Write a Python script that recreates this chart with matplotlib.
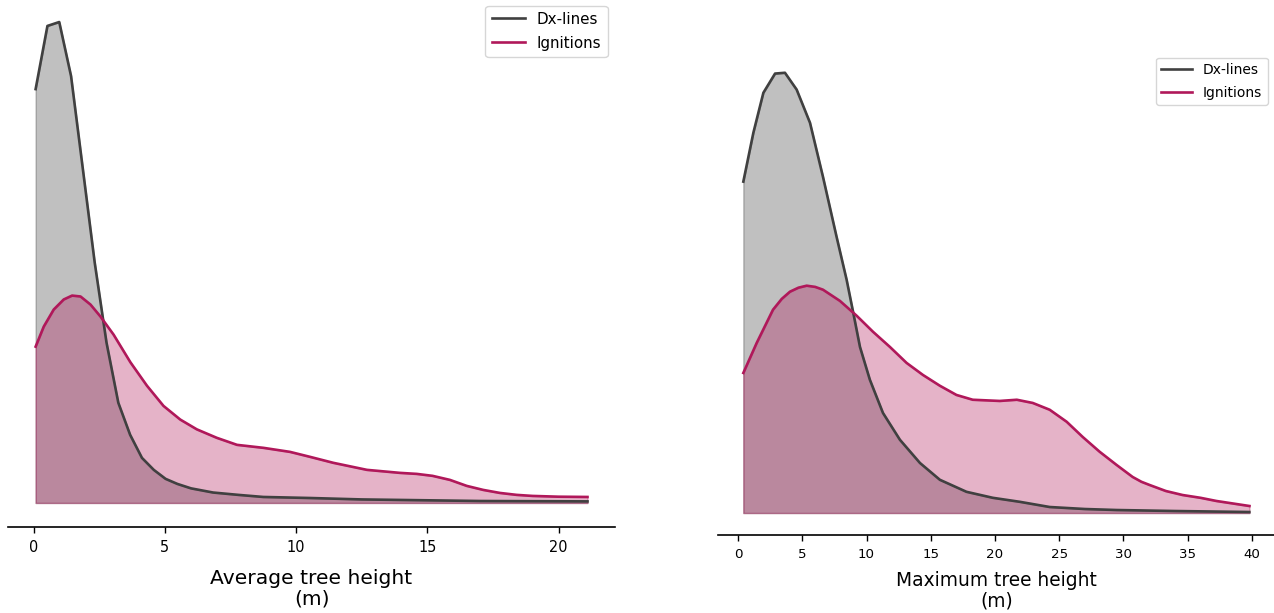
import matplotlib
matplotlib.use('Agg')
import matplotlib.pyplot as plt

# average tree height (m) -> density
avg_dx_x = [0.08, 0.53, 0.98, 1.43, 1.88, 2.33, 2.78, 3.23, 3.68, 4.13, 4.58, 5.03, 5.48, 6.0, 6.84, 7.8, 8.75, 10.53, 12.5, 14.0, 17.0, 21.1]
avg_dx_y = [0.3177, 0.3662, 0.3692, 0.3277, 0.2562, 0.1846, 0.1231, 0.0769, 0.0523, 0.0346, 0.0254, 0.0185, 0.0146, 0.0112, 0.0080, 0.0062, 0.0046, 0.0038, 0.0027, 0.0023, 0.0015, 0.0012]
avg_ig_x = [0.08, 0.39, 0.77, 1.15, 1.47, 1.79, 2.17, 2.55, 3.05, 3.69, 4.32, 4.95, 5.59, 6.22, 6.98, 7.75, 8.76, 9.77, 10.53, 11.42, 12.7, 13.95, 14.6, 15.2, 15.86, 16.5, 17.13, 17.76, 18.4, 19.0, 20.0, 21.1]
avg_ig_y = [0.120, 0.1354, 0.1485, 0.1562, 0.1592, 0.1585, 0.1523, 0.1431, 0.1292, 0.108, 0.0900, 0.0745, 0.0640, 0.0565, 0.050, 0.0446, 0.0423, 0.0392, 0.0354, 0.0308, 0.0254, 0.0231, 0.0223, 0.0208, 0.0177, 0.0131, 0.010, 0.0077, 0.0062, 0.0054, 0.0048, 0.0046]

# maximum tree height (m) -> density
max_dx_x = [0.41, 1.19, 1.97, 2.88, 3.65, 4.56, 5.60, 6.61, 7.67, 8.45, 8.97, 9.49, 10.26, 11.28, 12.60, 14.16, 15.71, 17.78, 19.83, 21.93, 24.26, 27.0, 29.47, 34.0, 39.8]
max_dx_y = [0.0828, 0.095, 0.105, 0.1098, 0.110, 0.1058, 0.0975, 0.084, 0.069, 0.0583, 0.050, 0.0415, 0.0333, 0.025, 0.0183, 0.0125, 0.0083, 0.0053, 0.0038, 0.0028, 0.0015, 0.001, 0.00075, 0.0005, 0.00025]
max_ig_x = [0.41, 1.45, 2.72, 3.4, 4.04, 4.7, 5.34, 6.0, 6.61, 7.93, 9.23, 10.5, 11.82, 13.12, 14.39, 15.71, 17.0, 18.27, 20.37, 21.7, 22.94, 24.26, 25.58, 26.83, 28.15, 29.47, 30.72, 31.4, 32.04, 33.3, 34.6, 36.0, 37.25, 39.81]
max_ig_y = [0.035, 0.0425, 0.0508, 0.0535, 0.0553, 0.0563, 0.0568, 0.0565, 0.0558, 0.053, 0.0493, 0.0453, 0.0415, 0.0375, 0.0345, 0.0318, 0.0295, 0.0283, 0.028, 0.0283, 0.0275, 0.0258, 0.0228, 0.019, 0.0153, 0.012, 0.009, 0.0078, 0.007, 0.0055, 0.0045, 0.0038, 0.003, 0.00175]

labels = ['Dx-lines', 'Ignitions']
colors = ['#404040', '#b0185a']


def draw(ax, series, xlabel, s, labelpad):
	for (x, y), lab, col in zip(series, labels, colors):
		ax.fill_between(x, y, 0, color=col, alpha=0.33, linewidth=1)
		ax.plot(x, y, color=col, linewidth=1.9, label=lab)
	for sp in ['left', 'right', 'top']:
		ax.spines[sp].set_visible(False)
	ax.spines['bottom'].set_linewidth(1.2)
	ax.set_yticks([])
	ax.tick_params(axis='x', labelsize=9.6 * s, length=4.5, width=1, pad=5)
	ax.set_xlabel(xlabel + '\n(m)', fontsize=13.4 * s, linespacing=1.1, labelpad=labelpad)
	ax.legend(loc='upper right', fontsize=10 * s, handlelength=2.2, labelspacing=0.6)


fig = plt.figure(figsize=(12.74, 6.13), dpi=100)
ax1 = fig.add_axes([0.0063, 0.1403, 0.4765, 0.863])
ax2 = fig.add_axes([0.5636, 0.1272, 0.437, 0.79])

draw(ax1, [(avg_dx_x, avg_dx_y), (avg_ig_x, avg_ig_y)], 'Average tree height', 1.09, 10)
draw(ax2, [(max_dx_x, max_dx_y), (max_ig_x, max_ig_y)], 'Maximum tree height', 1.0, 7)
ax1.set_xticks([0, 5, 10, 15, 20])
ax2.set_xticks(range(0, 45, 5))

fig.savefig('out.png', dpi=100)
